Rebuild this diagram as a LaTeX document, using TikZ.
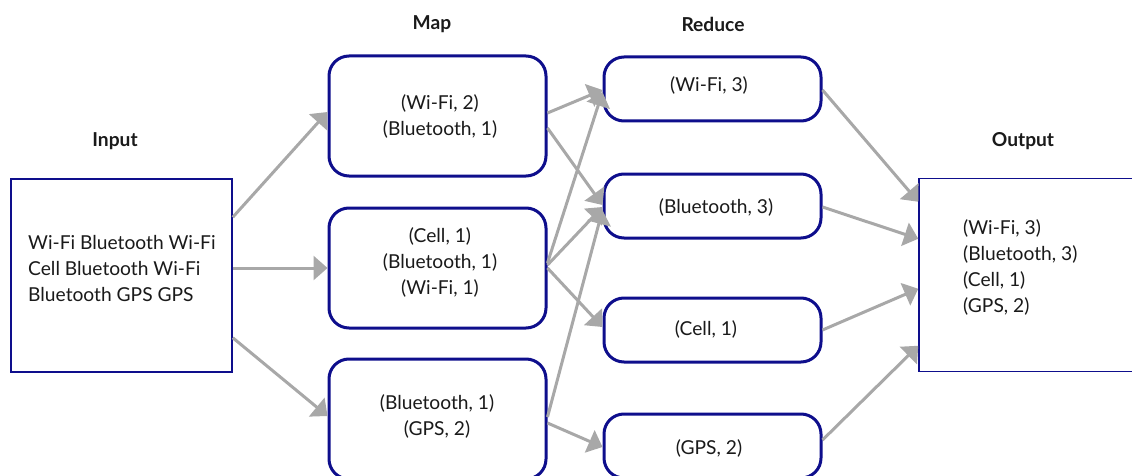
\documentclass[tikz,border=0pt]{standalone}
\usepackage{fontspec}
\setmainfont{Lato}
\usetikzlibrary{arrows.meta,calc}
\definecolor{boxblue}{RGB}{14,14,140}
\definecolor{flowgray}{RGB}{168,168,168}
\definecolor{ink}{RGB}{26,26,26}
\tikzset{
  every node/.style={text=ink},
  plainbox/.style={draw=boxblue, line width=1.5pt, fill=white, rectangle,
    minimum width=221pt, minimum height=193pt, inner sep=0pt},
  roundbox/.style={draw=boxblue, line width=3pt, fill=white, rectangle,
    rounded corners=20pt, minimum width=217pt, inner sep=0pt},
  mapbox/.style={roundbox, minimum height=120pt},
  redbox/.style={roundbox, minimum height=64pt},
  txt/.style={font=\fontsize{19.2}{26}\selectfont, align=center, inner sep=0pt},
  ltxt/.style={txt, align=left, anchor=west},
  head/.style={font=\fontsize{19.2}{26}\selectfont\bfseries, inner sep=0pt},
  flow/.style={draw=flowgray, line width=3pt,
    -{Triangle[length=14pt,width=24pt]}}
}
\begin{document}
\begin{tikzpicture}[x=1pt, y=-1pt]
  \useasboundingbox (0,0) rectangle (1132,476);
  \clip (0,0) rectangle (1132,476);

  % column headings
  \node[head] (hin)  at (115,141) {Input};
  \node[head] (hmap) at (432,24)  {Map};
  \node[head] (hred) at (713,24)  {Reduce};
  \node[head] (hout) at (1023,141) {Output};

  % input and output records
  \node[plainbox] (in)  at (121.5,275.5) {};
  \node[plainbox] (out) at (1029.5,275)  {};
  \node[ltxt] (intxt) at (28,269) {Wi-Fi Bluetooth Wi-Fi\\Cell Bluetooth Wi-Fi\\Bluetooth GPS GPS};
  \node[ltxt] (outtxt) at (963,267) {(Wi-Fi, 3)\\(Bluetooth, 3)\\(Cell, 1)\\(GPS, 2)};

  % map tasks
  \node[mapbox] (m1) at (437.5,116) {};
  \node[mapbox] (m2) at (437.5,268) {};
  \node[mapbox] (m3) at (437.5,419) {};
  \node[txt] at (440,116) {(Wi-Fi, 2)\\(Bluetooth, 1)};
  \node[txt] at (440,262) {(Cell, 1)\\(Bluetooth, 1)\\(Wi-Fi, 1)};
  \node[txt] at (437,416) {(Bluetooth, 1)\\(GPS, 2)};

  % reduce tasks
  \node[redbox] (r1) at (712.5,89)  {};
  \node[redbox] (r2) at (712.5,206) {};
  \node[redbox] (r3) at (712.5,330) {};
  \node[redbox] (r4) at (712.5,446) {};
  \node[txt] at (709,85)  {(Wi-Fi, 3)};
  \node[txt] at (716,207) {(Bluetooth, 3)};
  \node[txt] at (706,329) {(Cell, 1)};
  \node[txt] at (709,448) {(GPS, 2)};

  % input -> map
  \draw[flow] ($(in.north east)+(0,39)$)  -- ($(m1.west)+(0,-4)$);
  \draw[flow] ($(in.east)+(0,-7.5)$)      -- ($(m2.west)$);
  \draw[flow] ($(in.south east)+(0,-35)$) -- ($(m3.west)+(0,-3)$);

  % map -> reduce
  \draw[flow] ($(m1.east)+(0,-3)$)  -- ($(r1.west)+(0,1)$);
  \draw[flow] ($(m1.east)+(0,12)$)  -- ($(r2.west)+(0,-1)$);
  \draw[flow] ($(m2.east)+(0,-5)$)  -- ($(r1.west)+(0,3)$);
  \draw[flow] ($(m2.east)+(0,-3)$)  -- ($(r2.west)+(0,1)$);
  \draw[flow] ($(m2.east)+(0,0)$)   -- ($(r3.west)+(0,-3)$);
  \draw[flow] ($(m3.east)+(0,-2)$)  -- ($(r2.west)+(0,4)$);
  \draw[flow] ($(m3.east)+(0,4)$)   -- ($(r4.west)+(0,1)$);

  % reduce -> output
  \draw[flow] ($(r1.east)+(0,1)$)  -- ($(out.north west)+(0,24)$);
  \draw[flow] ($(r2.east)+(0,1)$)  -- ($(out.north west)+(0,61)$);
  \draw[flow] ($(r3.east)+(0,0)$)  -- ($(out.north west)+(0,111)$);
  \draw[flow] ($(r4.east)+(0,-6)$) -- ($(out.north west)+(0,168)$);
\end{tikzpicture}
\end{document}
